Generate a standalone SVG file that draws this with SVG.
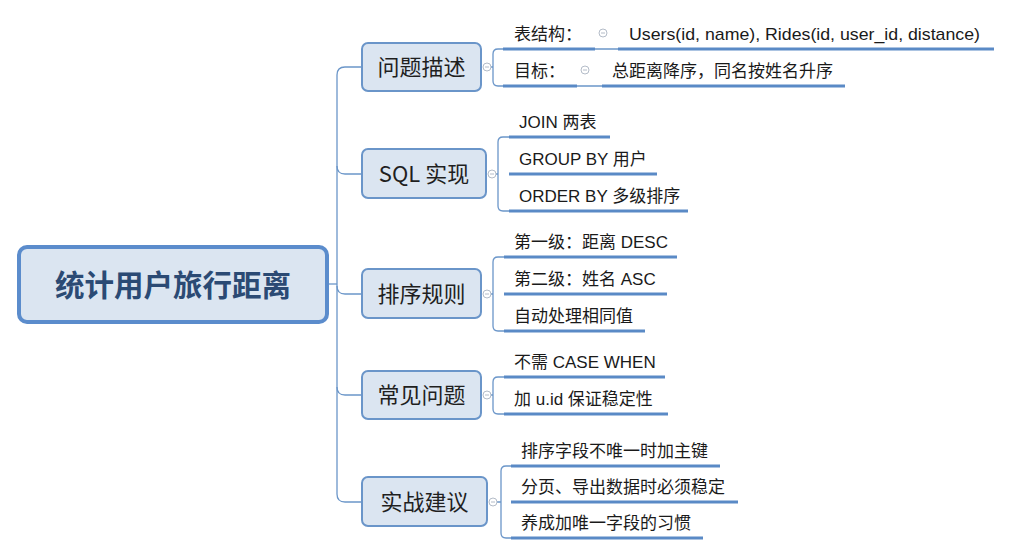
<svg xmlns="http://www.w3.org/2000/svg" width="1012" height="556" viewBox="0 0 1012 556">
<style>
.conn{fill:none;stroke:#6b96c9;stroke-width:1.3}
.ul{fill:none;stroke:#5a8ac6;stroke-width:3.2}
.box{fill:#dbe5f1;stroke:#6a95c9;stroke-width:2}
.mt{font-family:"Noto Sans CJK SC","Liberation Sans",sans-serif;font-size:22px;fill:#1f1f1f;text-anchor:middle}
.ct{font-family:"Liberation Sans","Noto Sans CJK SC",sans-serif;font-size:17px;fill:#1a1a1a}
.tog{fill:#ffffff;stroke:#b4bcc8;stroke-width:1}
.togm{stroke:#b4bcc8;stroke-width:1}
</style>
<rect width="1012" height="556" fill="#ffffff"/>
<g id="connectors">
<path class="conn" d="M328,284 H337"/>
<path class="conn" d="M362,67 H345 Q337,67 337,75 V494 Q337,502 345,502 H362"/>
<path class="conn" d="M337,166 Q337,174 345,174 H362"/>
<path class="conn" d="M337,286 Q337,294 345,294 H362"/>
<path class="conn" d="M337,387 Q337,395 345,395 H362"/>
<path class="conn" d="M491,67 H493 M503,49 H498 Q493,49 493,54 V81 Q493,86 498,86 H503"/>
<path class="conn" d="M595,49 H618 M577,86 H602"/>
<path class="conn" d="M496,174 H498 M509,137 H503 Q498,137 498,142 V206 Q498,211 503,211 H509"/>
<path class="conn" d="M491,294 H493 M504,257 H498 Q493,257 493,262 V326 Q493,331 498,331 H504"/>
<path class="conn" d="M491,395 H493 M504,377 H498 Q493,377 493,382 V409 Q493,414 498,414 H504"/>
<path class="conn" d="M497,502 H501 M511,466 H506 Q501,466 501,471 V533 Q501,538 506,538 H511"/>
</g>
<g id="root">
<rect x="19" y="247" width="308" height="75" rx="8" fill="#dbe5f1" stroke="#5b8ccc" stroke-width="4"/>
<text x="173" y="296" text-anchor="middle" font-family="Noto Sans CJK SC,Liberation Sans,sans-serif" font-size="29.5" font-weight="bold" fill="#2b4a74">统计用户旅行距离</text>
</g>
<g id="n1">
<rect class="box" x="362" y="43" width="119" height="48" rx="6"/>
<text class="mt" x="421.5" y="75">问题描述</text>
<circle class="tog" cx="487" cy="67" r="4"/><path class="togm" d="M485,67 H489"/>
</g>
<g id="n1c1">
<text class="ct" x="514" y="40">表结构：</text>
<path class="ul" d="M503,49 H595"/>
<circle class="tog" cx="603" cy="33" r="4"/><path class="togm" d="M601,33 H605"/>
<text class="ct" x="629" y="40" textLength="351" lengthAdjust="spacingAndGlyphs">Users(id, name), Rides(id, user_id, distance)</text>
<path class="ul" d="M618,49 H994"/>
</g>
<g id="n1c2">
<text class="ct" x="514" y="77">目标：</text>
<path class="ul" d="M503,86 H577"/>
<circle class="tog" cx="585" cy="70" r="4"/><path class="togm" d="M583,70 H587"/>
<text class="ct" x="612" y="77">总距离降序，同名按姓名升序</text>
<path class="ul" d="M602,86 H845"/>
</g>
<g id="n2">
<rect class="box" x="362" y="149" width="124" height="49" rx="6"/>
<text class="mt" x="424" y="182">SQL 实现</text>
<circle class="tog" cx="492" cy="174" r="4"/><path class="togm" d="M490,174 H494"/>
</g>
<g id="n2c">
<text class="ct" x="519" y="128">JOIN 两表</text>
<path class="ul" d="M509,137 H610"/>
<text class="ct" x="519" y="165">GROUP BY 用户</text>
<path class="ul" d="M509,174 H657"/>
<text class="ct" x="519" y="202">ORDER BY 多级排序</text>
<path class="ul" d="M509,211 H688"/>
</g>
<g id="n3">
<rect class="box" x="362" y="269" width="119" height="49" rx="6"/>
<text class="mt" x="421.5" y="302">排序规则</text>
<circle class="tog" cx="487" cy="294" r="4"/><path class="togm" d="M485,294 H489"/>
</g>
<g id="n3c">
<text class="ct" x="514" y="248">第一级：距离 DESC</text>
<path class="ul" d="M504,257 H677"/>
<text class="ct" x="514" y="285">第二级：姓名 ASC</text>
<path class="ul" d="M504,294 H667"/>
<text class="ct" x="514" y="322">自动处理相同值</text>
<path class="ul" d="M504,331 H645"/>
</g>
<g id="n4">
<rect class="box" x="362" y="371" width="119" height="48" rx="6"/>
<text class="mt" x="421.5" y="403">常见问题</text>
<circle class="tog" cx="487" cy="395" r="4"/><path class="togm" d="M485,395 H489"/>
</g>
<g id="n4c">
<text class="ct" x="514" y="368">不需 CASE WHEN</text>
<path class="ul" d="M504,377 H665"/>
<text class="ct" x="514" y="405">加 u.id 保证稳定性</text>
<path class="ul" d="M504,414 H668"/>
</g>
<g id="n5">
<rect class="box" x="362" y="477" width="125" height="49" rx="6"/>
<text class="mt" x="424.5" y="509.5">实战建议</text>
<circle class="tog" cx="493" cy="502" r="4"/><path class="togm" d="M491,502 H495"/>
</g>
<g id="n5c">
<text class="ct" x="521" y="457">排序字段不唯一时加主键</text>
<path class="ul" d="M511,466 H720"/>
<text class="ct" x="521" y="493">分页、导出数据时必须稳定</text>
<path class="ul" d="M511,502 H738"/>
<text class="ct" x="521" y="529">养成加唯一字段的习惯</text>
<path class="ul" d="M511,538 H703"/>
</g>
</svg>
